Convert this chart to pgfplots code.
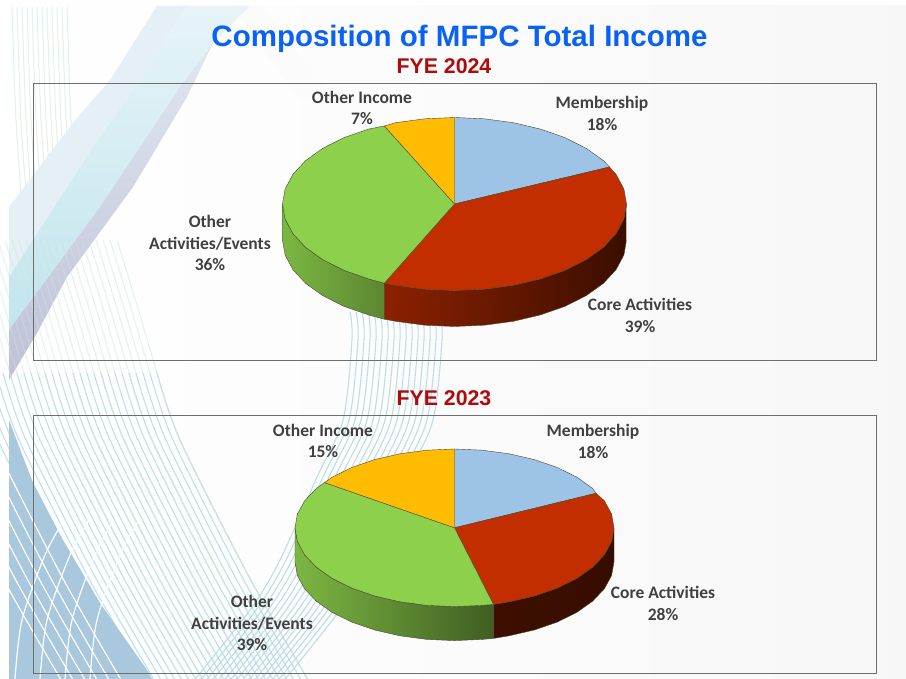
\documentclass[border=0pt]{standalone}
\usepackage{pgfplots}
\pgfplotsset{compat=1.18}
\usepackage{fontspec}
\setmainfont{Liberation Sans}
\newfontfamily\lab{Carlito}
\definecolor{cMem}{HTML}{9DC3E6}
\definecolor{cCore}{HTML}{C22E00}
\definecolor{cAct}{HTML}{8DD04B}
\definecolor{cOth}{HTML}{FFBC00}
\definecolor{edge}{HTML}{4A4A30}
\definecolor{ttl}{HTML}{0A62F2}
\definecolor{fye}{HTML}{B20A0A}
\definecolor{lbl}{HTML}{404040}
\definecolor{frame}{HTML}{6E6E6E}
\definecolor{lineA}{HTML}{BFE2EA}
\definecolor{lineB}{HTML}{CBE6D8}
\definecolor{lineC}{HTML}{B4D8E6}
\definecolor{blueA}{HTML}{A9C7DD}
\definecolor{band1}{HTML}{E4F0F6}
\definecolor{band2t}{HTML}{E6F4F8}
\definecolor{band2b}{HTML}{C2E5EE}
\definecolor{band3t}{HTML}{DFE7F0}
\definecolor{band3b}{HTML}{BFC0D8}
\tikzset{lbltxt/.style={font=\lab\bfseries\fontsize{17.5}{21.5}\selectfont,text=lbl,align=center,inner sep=0pt}}
\pgfplotsset{
  canvas/.style={scale only axis,xtick=\empty,ytick=\empty,y dir=reverse},
  slice/.style={draw=edge,line width=0.4pt,fill=#1},
  panel/.style={canvas,clip=false,axis line style={draw=frame,line width=1pt}}
}
\begin{document}
\begin{tikzpicture}
% ---------- background and headings, in image pixels
\begin{axis}[canvas,axis lines=none,width=906pt,height=679pt,xmin=0,xmax=906,ymin=0,ymax=679,at={(0pt,0pt)},anchor=south west,clip=true]
\addplot[draw=none,fill=white] coordinates {(0,0)(906,0)(906,679)(0,679)};
\addplot[draw=none,left color=white,right color=white!97!black] coordinates {(9,6)(906,6)(906,679)(9,679)};
% faint hatch near the title
\addplot[draw=none,fill=black!1.5] coordinates {(232,6)(262,6)(335,100)(300,100)};
% vertical pale lines, top left
\pgfplotsinvokeforeach{0,5,...,55}{
\addplot[lineB,line width=1pt,opacity=0.55,smooth,xshift=#1pt] coordinates {(12,7)(16,120)(22,205)};
}
% diagonal bands
\addplot[draw=none,fill=band1] coordinates {(157,6)(187,6)(140,80)(93,147)(9,277)(9,207)(73,123)(110,80)};
\addplot[draw=none,top color=band2t,bottom color=band2b] coordinates {(187,6)(250,6)(213,43)(180,87)(100,207)(9,330)(9,277)(93,147)(140,80)};
\addplot[draw=none,top color=band3t,bottom color=band3b] coordinates {(213,43)(187,97)(133,187)(67,277)(37,333)(9,380)(9,330)(100,207)(180,87)};
% descending family, paler in its upper part
\pgfplotsinvokeforeach{0,7,...,147}{
\addplot[lineB,line width=1pt,opacity=0.5,smooth,xshift=#1pt] coordinates {(-30,240)(-10,305)(10,373)};
}
\pgfplotsinvokeforeach{-35,-28,...,147}{
\addplot[lineA,line width=1.1pt,smooth,xshift=#1pt] coordinates {(10,373)(33,440)(100,573)(157,673)(165,685)};
}
\pgfplotsinvokeforeach{35,63,...,147}{
\addplot[lineB,line width=1.1pt,smooth,xshift=#1pt] coordinates {(10,373)(33,440)(100,573)(157,673)(165,685)};
}
% lower left region
\addplot[draw=none,fill=blueA] coordinates {(9,420)(33,483)(63,540)(100,603)(147,670)(152,679)(9,679)};
% white arcs over the region
\pgfplotsinvokeforeach{0,25,...,75}{
\addplot[white,line width=1.2pt,smooth,xshift=#1pt] coordinates {(15,679)(22,620)(45,555)(64,520)};
}
% white descending lines over the region
\pgfplotsinvokeforeach{-100,-88,...,-40}{
\addplot[white,line width=1.2pt,smooth,xshift=#1pt] coordinates {(10,373)(33,440)(100,573)(157,673)(165,685)};
}
% ascending family
\pgfplotsinvokeforeach{0,6,...,90}{
\addplot[lineC,line width=1.1pt,opacity=0.85,smooth,xshift=#1pt] coordinates {(192,683)(250,610)(280,560)(317,477)(343,420)(352,340)(350,312)};
}
\node[font=\bfseries\fontsize{29.5}{32}\selectfont,text=ttl,inner sep=0pt] at (axis cs:459.5,38.5) {Composition of MFPC Total Income};
\node[font=\bfseries\fontsize{21.3}{24}\selectfont,text=fye,inner sep=0pt] at (axis cs:444,66) {FYE 2024};
\node[font=\bfseries\fontsize{21.3}{24}\selectfont,text=fye,inner sep=0pt] at (axis cs:444,398) {FYE 2023};
\end{axis}
% ---------- FYE 2024
\begin{axis}[panel,width=843pt,height=277pt,xmin=33,xmax=876,ymin=84,ymax=361,at={(33pt,318pt)},anchor=south west]
% side walls
\addplot[draw=edge,line width=0.4pt,left color=cAct!88!black,right color=cAct!65!black] coordinates {
(282.5,204)(285.1,219.0)(292.9,233.6)(305.5,247.3)(322.7,259.6)(343.9,270.3)(368.5,278.9)(384.3,283.2)
(384.3,319.2)(368.5,314.9)(343.9,306.3)(322.7,295.6)(305.5,283.3)(292.9,269.6)(285.1,255.0)(282.5,240)(282.5,204)};
\addplot[draw=edge,line width=0.4pt,left color=cCore!72!black,middle color=cCore!38!black,right color=cCore!30!black] coordinates {
(384.3,283.2)(395.7,285.3)(424.6,289.2)(454.5,290.5)(484.4,289.2)(513.3,285.3)(540.5,278.9)(565.1,270.3)(586.3,259.6)(603.5,247.3)(616.1,233.6)(623.9,219.0)(626.5,204)
(626.5,240)(623.9,255.0)(616.1,269.6)(603.5,283.3)(586.3,295.6)(565.1,306.3)(540.5,314.9)(513.3,321.3)(484.4,325.2)(454.5,326.5)(424.6,325.2)(395.7,321.3)(384.3,319.2)(384.3,283.2)};
% top face, shares 18, 39, 36, 7
\addplot[slice=cMem] coordinates {(454.5,204)(454.5,117.5)(484.4,118.8)(513.3,122.7)(540.5,129.1)(565.1,137.7)(586.3,148.4)(603.5,160.7)(609.5,167)(454.5,204)};
\addplot[slice=cCore] coordinates {(454.5,204)(609.5,167)(616.1,174.4)(623.9,189.0)(626.5,204)(623.9,219.0)(616.1,233.6)(603.5,247.3)(586.3,259.6)(565.1,270.3)(540.5,278.9)(513.3,285.3)(484.4,289.2)(454.5,290.5)(424.6,289.2)(395.7,285.3)(384.3,283.2)(454.5,204)};
\addplot[slice=cAct] coordinates {(454.5,204)(384.3,283.2)(368.5,278.9)(343.9,270.3)(322.7,259.6)(305.5,247.3)(292.9,233.6)(285.1,219.0)(282.5,204)(285.1,189.0)(292.9,174.4)(305.5,160.7)(322.7,148.4)(343.9,137.7)(368.5,129.1)(384.3,126)(454.5,204)};
\addplot[slice=cOth] coordinates {(454.5,204)(384.3,126)(395.7,122.7)(424.6,118.8)(454.5,117.5)(454.5,204)};
\node[lbltxt] at (axis cs:362,108) {Other Income\\7\%};
\node[lbltxt] at (axis cs:602,113.5) {Membership\\18\%};
\node[lbltxt] at (axis cs:210,243) {Other\\Activities/Events\\36\%};
\node[lbltxt] at (axis cs:640,315.5) {Core Activities\\39\%};
\end{axis}
% ---------- FYE 2023
\begin{axis}[panel,width=843pt,height=258pt,xmin=33,xmax=876,ymin=416,ymax=674,at={(33pt,5pt)},anchor=south west]
\addplot[draw=edge,line width=0.4pt,left color=cAct!88!black,right color=cAct!45!black] coordinates {
(295.0,527.8)(297.4,541.5)(304.6,554.8)(316.4,567.2)(332.3,578.5)(352.0,588.2)(374.7,596.0)(399.9,601.8)(426.8,605.4)(454.5,606.6)(482.2,605.4)(493.5,604.4)
(493.5,638.4)(482.2,639.4)(454.5,640.6)(426.8,639.4)(399.9,635.8)(374.7,630.0)(352.0,622.2)(332.3,612.5)(316.4,601.2)(304.6,588.8)(297.4,575.5)(295.0,561.8)(295.0,527.8)};
\addplot[draw=edge,line width=0.4pt,left color=cCore!32!black,right color=cCore!28!black] coordinates {
(493.5,604.4)(509.1,601.8)(534.3,596.0)(557.0,588.2)(576.7,578.5)(592.6,567.2)(604.4,554.8)(611.6,541.5)(614.0,527.8)
(614.0,561.8)(611.6,575.5)(604.4,588.8)(592.6,601.2)(576.7,612.5)(557.0,622.2)(534.3,630.0)(509.1,635.8)(493.5,638.4)(493.5,604.4)};
% top face, shares 18, 28, 39, 15
\addplot[slice=cMem] coordinates {(454.5,527.8)(454.5,449.0)(482.2,450.2)(509.1,453.8)(534.3,459.6)(557.0,467.4)(576.7,477.1)(592.6,488.4)(596,493.3)(454.5,527.8)};
\addplot[slice=cCore] coordinates {(454.5,527.8)(596,493.3)(604.4,500.8)(611.6,514.1)(614.0,527.8)(611.6,541.5)(604.4,554.8)(592.6,567.2)(576.7,578.5)(557.0,588.2)(534.3,596.0)(509.1,601.8)(493.5,604.4)(454.5,527.8)};
\addplot[slice=cAct] coordinates {(454.5,527.8)(493.5,604.4)(482.2,605.4)(454.5,606.6)(426.8,605.4)(399.9,601.8)(374.7,596.0)(352.0,588.2)(332.3,578.5)(316.4,567.2)(304.6,554.8)(297.4,541.5)(295.0,527.8)(297.4,514.1)(304.6,500.8)(316.4,488.4)(324.5,482.6)(454.5,527.8)};
\addplot[slice=cOth] coordinates {(454.5,527.8)(324.5,482.6)(332.3,477.1)(352.0,467.4)(374.7,459.6)(399.9,453.8)(426.8,450.2)(454.5,449.0)(454.5,527.8)};
\node[lbltxt] at (axis cs:323,441) {Other Income\\15\%};
\node[lbltxt] at (axis cs:593,441.5) {Membership\\18\%};
\node[lbltxt] at (axis cs:252,623) {Other\\Activities/Events\\39\%};
\node[lbltxt] at (axis cs:663,603.5) {Core Activities\\28\%};
\end{axis}
\end{tikzpicture}
\end{document}
